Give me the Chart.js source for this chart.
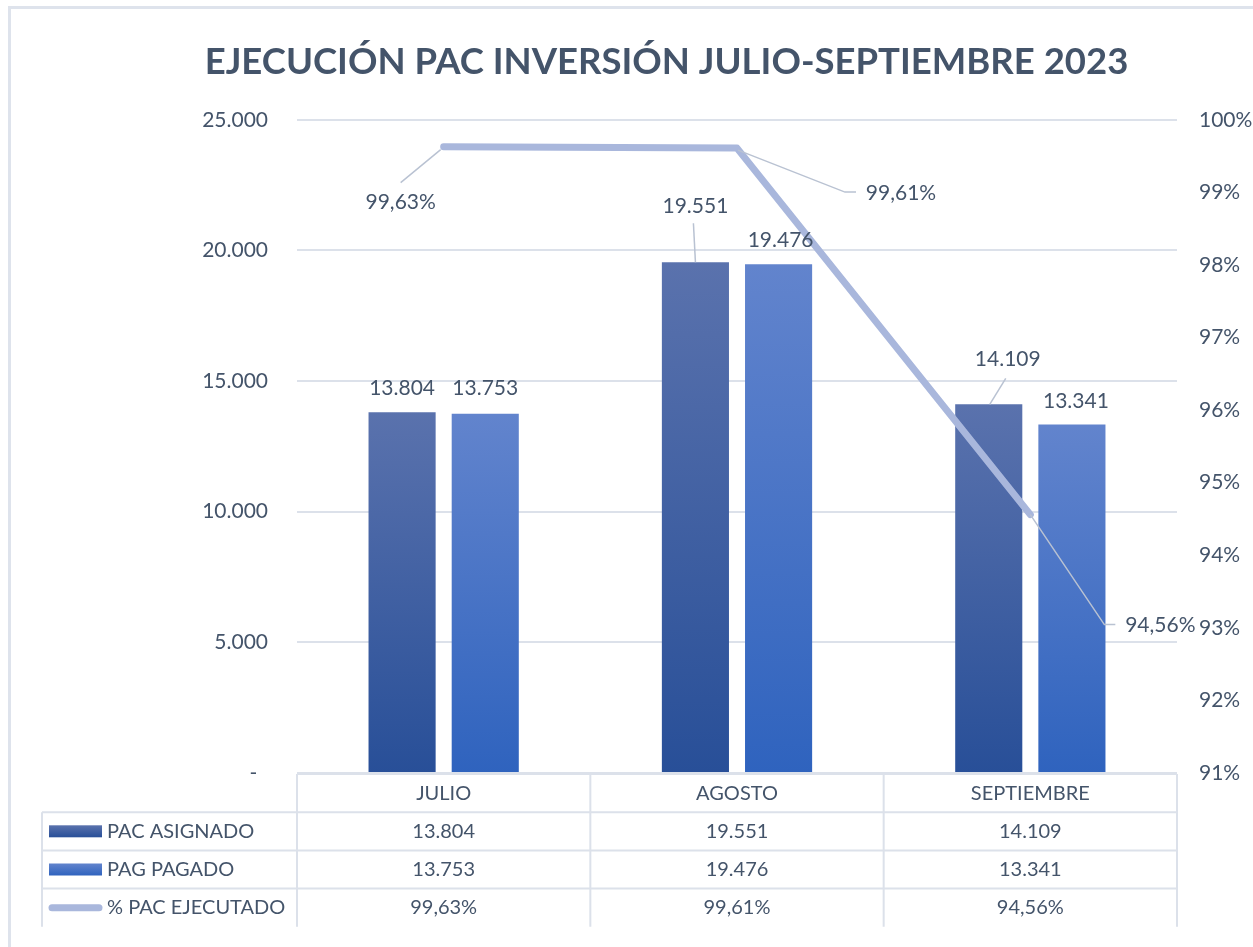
<!DOCTYPE html>
<html lang="es">
<head>
<meta charset="utf-8">
<title>Ejecución PAC inversión julio-septiembre 2023</title>
<script src="https://cdn.jsdelivr.net/npm/chart.js@4.4.1/dist/chart.umd.min.js"></script>
<style>
  html, body { margin: 0; padding: 0; background: #fff; overflow: hidden; }
  #marco { position: absolute; left: 8px; top: 6px; width: 1400px; height: 1100px;
           border-left: 3px solid #DEE3EC; border-top: 3px solid #DEE3EC; }
  #contenedor { position: absolute; left: 0; top: 0; width: 1253px; height: 947px; }
</style>
</head>
<body>
<div id="marco"></div>
<div id="contenedor"><canvas id="grafico"></canvas></div>
<script>
// Datos
const categorias = ['JULIO', 'AGOSTO', 'SEPTIEMBRE'];
const pacAsignado = [13804, 19551, 14109];
const pagPagado = [13753, 19476, 13341];
const pacEjecutado = [99.63, 99.61, 94.56];
const nombresSeries = ['PAC ASIGNADO', 'PAG PAGADO', '% PAC EJECUTADO'];
const ticksMiles = [0, 5000, 10000, 15000, 20000, 25000];
const ticksPorcentaje = [91, 92, 93, 94, 95, 96, 97, 98, 99, 100];

const fuente = "Lato, 'Open Sans', sans-serif";
const colorTexto = '#44546A';
const colorRejilla = '#DCE1EA';
const colorGuia = '#B9C2D2';
const colorLinea = '#A9B7DC';
const degradados = [['#5A72AD', '#284F98'], ['#6284CD', '#2F63BE']];

// Formato 13.804 y 99,63%
function formatoMiles(v) {
    return String(v).replace(/\B(?=(\d{3})+(?!\d))/g, '.');
}
function formatoPorcentaje(v) {
    return v.toFixed(2).replace('.', ',') + '%';
}

// Relleno degradado vertical por barra
function degradado(par) {
    return function (c) {
        const chart = c.chart;
        if (!chart.chartArea || c.type !== 'data') return par[1];
        const y = chart.scales.y.getPixelForValue(c.raw);
        const g = chart.ctx.createLinearGradient(0, y, 0, chart.chartArea.bottom);
        g.addColorStop(0, par[0]);
        g.addColorStop(1, par[1]);
        return g;
    };
}

// Desplazamiento de cada etiqueta y sus líneas guía (estilo)
const ajustesEtiquetas = [
    [{ dx: 0, dy: -24 }, { dx: 0, dy: -56, guia: [[0, 0], [-2, -39]] }, { dx: 19, dy: -45, guia: [[1, 0], [17, -26]] }],
    [{ dx: 0, dy: -25 }, { dx: 2, dy: -24 }, { dx: 4, dy: -23 }],
    [{ dx: -43, dy: 56, guia: [[-3, 3], [-43, 36]] },
     { dx: 164, dy: 45, guia: [[1, 2], [108, 44], [119, 44]] },
     { dx: 130, dy: 111, guia: [[0, 0], [74, 110], [85, 110]] }]
];

const etiquetasDatos = {
    id: 'etiquetasDatos',
    afterDatasetsDraw(chart) {
        const ctx = chart.ctx;
        ctx.save();
        ctx.font = '21px ' + fuente;
        ctx.fillStyle = colorTexto;
        ctx.textAlign = 'center';
        ctx.textBaseline = 'middle';
        chart.data.datasets.forEach((ds, d) => {
            const meta = chart.getDatasetMeta(d);
            meta.data.forEach((el, i) => {
                const aj = ajustesEtiquetas[d][i];
                if (aj.guia) {
                    ctx.beginPath();
                    ctx.strokeStyle = colorGuia;
                    ctx.lineWidth = 1.5;
                    aj.guia.forEach((p, k) => {
                        if (k === 0) ctx.moveTo(el.x + p[0], el.y + p[1]);
                        else ctx.lineTo(el.x + p[0], el.y + p[1]);
                    });
                    ctx.stroke();
                }
                const texto = d === 2 ? formatoPorcentaje(ds.data[i]) : formatoMiles(ds.data[i]);
                ctx.fillText(texto, el.x + aj.dx, el.y + aj.dy);
            });
        });
        ctx.restore();
    }
};

// Tabla de datos bajo el gráfico
const tablaDatos = {
    id: 'tablaDatos',
    afterDraw(chart) {
        const { ctx, chartArea } = chart;
        const xs = chart.scales.x;
        const n = categorias.length;
        const anchoCol = (chartArea.right - chartArea.left) / n;
        const izq = 42;
        const alto = 38.2;
        const arriba = chartArea.bottom + 1;
        const filas = [pacAsignado, pagPagado, pacEjecutado];
        ctx.save();
        ctx.strokeStyle = colorRejilla;
        ctx.lineWidth = 2;
        // líneas horizontales
        ctx.beginPath();
        ctx.moveTo(chartArea.left, arriba);
        ctx.lineTo(chartArea.right, arriba);
        for (let r = 1; r <= filas.length; r++) {
            ctx.moveTo(izq, arriba + r * alto);
            ctx.lineTo(chartArea.right, arriba + r * alto);
        }
        // líneas verticales
        for (let c = 0; c <= n; c++) {
            const x = chartArea.left + c * anchoCol;
            ctx.moveTo(x, arriba);
            ctx.lineTo(x, arriba + (filas.length + 1) * alto);
        }
        ctx.moveTo(izq, arriba + alto);
        ctx.lineTo(izq, arriba + (filas.length + 1) * alto);
        ctx.stroke();

        ctx.font = '20px ' + fuente;
        ctx.fillStyle = colorTexto;
        ctx.textBaseline = 'middle';
        ctx.textAlign = 'center';
        categorias.forEach((cat, i) => {
            ctx.fillText(cat, xs.getPixelForValue(i), arriba + alto / 2);
        });
        filas.forEach((fila, r) => {
            const yMid = arriba + (r + 1) * alto + alto / 2;
            ctx.textAlign = 'center';
            ctx.fillStyle = colorTexto;
            fila.forEach((v, i) => {
                const t = r === 2 ? formatoPorcentaje(v) : formatoMiles(v);
                ctx.fillText(t, xs.getPixelForValue(i), yMid);
            });
            // muestra de la serie
            if (r < 2) {
                const g = ctx.createLinearGradient(0, yMid - 6, 0, yMid + 6);
                g.addColorStop(0, degradados[r][0]);
                g.addColorStop(1, degradados[r][1]);
                ctx.fillStyle = g;
                ctx.fillRect(49, yMid - 6, 53, 12);
            } else {
                ctx.beginPath();
                ctx.strokeStyle = colorLinea;
                ctx.lineWidth = 7;
                ctx.lineCap = 'round';
                ctx.moveTo(52, yMid);
                ctx.lineTo(99, yMid);
                ctx.stroke();
            }
            ctx.textAlign = 'left';
            ctx.fillStyle = colorTexto;
            ctx.fillText(nombresSeries[r], 107, yMid);
        });
        ctx.restore();
    }
};

new Chart(document.getElementById('grafico'), {
    type: 'bar',
    data: {
        labels: categorias,
        datasets: [
            {
                label: nombresSeries[0],
                data: pacAsignado,
                backgroundColor: degradado(degradados[0]),
                yAxisID: 'y',
                order: 2,
                categoryPercentage: 0.567,
                barPercentage: 0.807
            },
            {
                label: nombresSeries[1],
                data: pagPagado,
                backgroundColor: degradado(degradados[1]),
                yAxisID: 'y',
                order: 2,
                categoryPercentage: 0.567,
                barPercentage: 0.807
            },
            {
                type: 'line',
                label: nombresSeries[2],
                data: pacEjecutado,
                borderColor: colorLinea,
                backgroundColor: colorLinea,
                borderWidth: 7,
                borderCapStyle: 'round',
                borderJoinStyle: 'round',
                pointRadius: 0,
                tension: 0,
                yAxisID: 'y1',
                order: 1
            }
        ]
    },
    options: {
        responsive: true,
        maintainAspectRatio: false,
        animation: false,
        layout: { padding: { left: 80, right: 0, top: 0, bottom: 174 } },
        plugins: {
            legend: { display: false },
            tooltip: { enabled: false },
            title: {
                display: true,
                text: 'EJECUCIÓN PAC INVERSIÓN JULIO-SEPTIEMBRE 2023',
                color: colorTexto,
                font: { family: fuente, size: 36.5, weight: 'bold' },
                padding: { top: 40, bottom: 36 }
            }
        },
        scales: {
            x: { display: false, offset: true },
            y: {
                position: 'left',
                min: ticksMiles[0],
                max: ticksMiles[ticksMiles.length - 1],
                afterBuildTicks: s => { s.ticks = ticksMiles.map(v => ({ value: v })); },
                afterFit: s => { s.width = 217; },
                ticks: {
                    color: colorTexto,
                    font: { family: fuente, size: 21 },
                    padding: 29,
                    callback: v => v === 0 ? '-  ' : formatoMiles(v)
                },
                grid: { color: colorRejilla, lineWidth: 2, drawTicks: false },
                border: { display: false }
            },
            y1: {
                position: 'right',
                min: ticksPorcentaje[0],
                max: ticksPorcentaje[ticksPorcentaje.length - 1],
                afterBuildTicks: s => { s.ticks = ticksPorcentaje.map(v => ({ value: v })); },
                afterFit: s => { s.width = 76; },
                ticks: {
                    color: colorTexto,
                    font: { family: fuente, size: 21 },
                    padding: 22,
                    callback: v => v + '%'
                },
                grid: { drawOnChartArea: false, drawTicks: false },
                border: { display: false }
            }
        }
    },
    plugins: [etiquetasDatos, tablaDatos]
});
</script>
</body>
</html>
